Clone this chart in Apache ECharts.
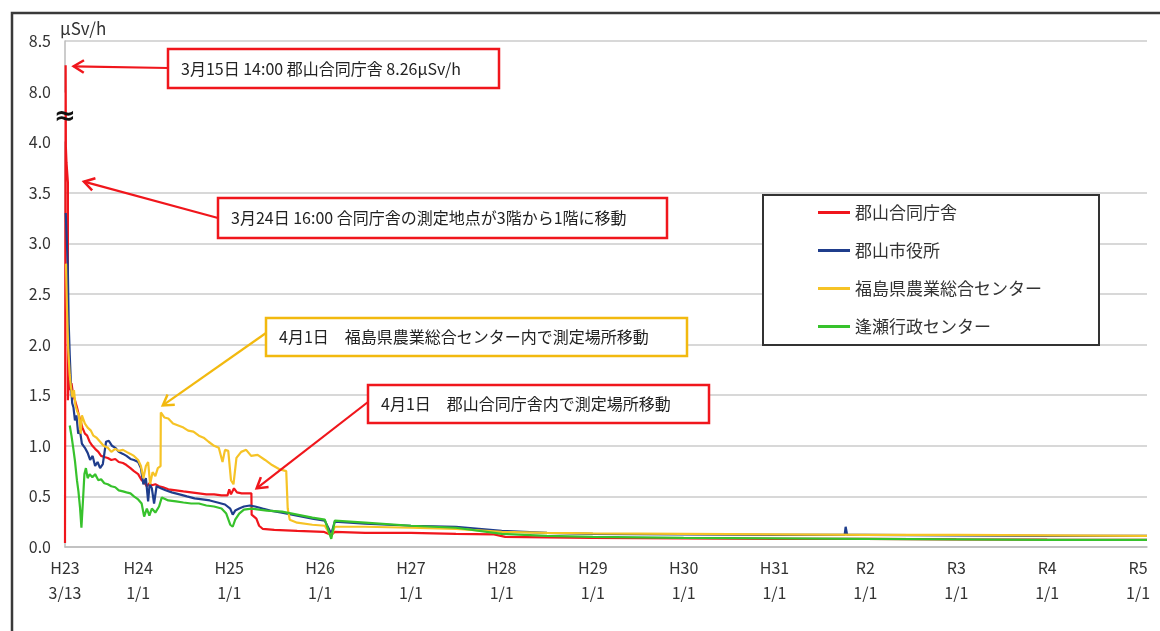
<!DOCTYPE html>
<html>
<head>
<meta charset="utf-8">
<script src="https://cdn.jsdelivr.net/npm/echarts@6/dist/echarts.min.js"></script>
<style>
  html, body { margin: 0; padding: 0; background: #fff; }
  #main { width: 1160px; height: 631px; }
</style>
</head>
<body>
<div id="main"></div>
<script>
// 凡例
const seriesNames = ['郡山合同庁舎', '郡山市役所', '福島県農業総合センター', '逢瀬行政センター'];

// 横軸の目盛
const tickDates = ['2011-03-13', '2012-01-01', '2013-01-01', '2014-01-01', '2015-01-01', '2016-01-01',
  '2017-01-01', '2018-01-01', '2019-01-01', '2020-01-01', '2021-01-01', '2022-01-01', '2023-01-01'];
const tickLabels = ['H23\n3/13', 'H24\n1/1', 'H25\n1/1', 'H26\n1/1', 'H27\n1/1', 'H28\n1/1',
  'H29\n1/1', 'H30\n1/1', 'H31\n1/1', 'R2\n1/1', 'R3\n1/1', 'R4\n1/1', 'R5\n1/1'];

// 郡山合同庁舎
const godoData = [
  ['2011-03-13 00:00', 0.04], ['2011-03-15 14:00', 8.26], ['2011-03-16 12:00', 3.95], ['2011-03-19', 3.8],
  ['2011-03-24 16:00', 3.6], ['2011-03-24 17:00', 1.45], ['2011-03-28', 1.65], ['2011-04-03', 1.55],
  ['2011-04-08', 1.62], ['2011-04-15', 1.5], ['2011-04-22', 1.45], ['2011-04-30', 1.38], ['2011-05-08', 1.3],
  ['2011-05-15', 1.24], ['2011-05-22', 1.18], ['2011-06-01', 1.12], ['2011-06-10', 1.1], ['2011-06-20', 1.04],
  ['2011-07-01', 1.0], ['2011-07-12', 0.97], ['2011-07-25', 0.94], ['2011-08-05', 0.9], ['2011-08-18', 0.89],
  ['2011-09-01', 0.88], ['2011-09-15', 0.86], ['2011-10-01', 0.87], ['2011-10-15', 0.84], ['2011-11-01', 0.83],
  ['2011-11-15', 0.81], ['2011-12-01', 0.78], ['2011-12-15', 0.75], ['2012-01-01', 0.72], ['2012-01-15', 0.66],
  ['2012-01-25', 0.64], ['2012-02-05', 0.6], ['2012-02-15', 0.63], ['2012-02-25', 0.61], ['2012-03-10', 0.62],
  ['2012-03-25', 0.6], ['2012-04-10', 0.59], ['2012-05-01', 0.57], ['2012-06-01', 0.56], ['2012-07-01', 0.55],
  ['2012-08-01', 0.54], ['2012-09-01', 0.53], ['2012-10-01', 0.52], ['2012-11-01', 0.52], ['2012-12-01', 0.51],
  ['2012-12-25', 0.51], ['2013-01-01', 0.57], ['2013-01-08', 0.52], ['2013-01-20', 0.58], ['2013-02-01', 0.54],
  ['2013-02-20', 0.53], ['2013-03-10', 0.53], ['2013-03-31', 0.53], ['2013-04-01', 0.32], ['2013-04-20', 0.28],
  ['2013-05-01', 0.21], ['2013-05-15', 0.18], ['2013-07-01', 0.17], ['2013-10-01', 0.16], ['2014-01-15', 0.15],
  ['2014-02-15', 0.12], ['2014-03-01', 0.15], ['2014-07-01', 0.14], ['2015-01-01', 0.14], ['2015-07-01', 0.13],
  ['2015-12-01', 0.125], ['2016-01-15', 0.1], ['2016-07-01', 0.095], ['2017-01-01', 0.09], ['2018-01-01', 0.085],
  ['2019-01-01', 0.08], ['2020-01-01', 0.08], ['2021-01-01', 0.075], ['2022-01-01', 0.072], ['2023-02-06', 0.07]
];

// 郡山市役所
const shiyakushoData = [
  ['2011-03-16', 3.3], ['2011-03-20', 3.05], ['2011-03-24', 2.8], ['2011-03-28', 2.2], ['2011-04-01', 1.9],
  ['2011-04-06', 1.6], ['2011-04-11', 1.42], ['2011-04-16', 1.38], ['2011-04-22', 1.25], ['2011-04-28', 1.3],
  ['2011-05-05', 1.12], ['2011-05-12', 1.15], ['2011-05-20', 1.02], ['2011-06-01', 0.98], ['2011-06-12', 0.93],
  ['2011-06-22', 0.86], ['2011-07-02', 0.9], ['2011-07-12', 0.8], ['2011-07-22', 0.84], ['2011-08-01', 0.78],
  ['2011-08-12', 0.82], ['2011-08-25', 1.04], ['2011-09-05', 1.05], ['2011-09-18', 1.0], ['2011-10-01', 0.98],
  ['2011-10-15', 0.94], ['2011-11-01', 0.92], ['2011-11-15', 0.9], ['2011-12-01', 0.87], ['2011-12-15', 0.86],
  ['2012-01-01', 0.84], ['2012-01-12', 0.78], ['2012-01-22', 0.62], ['2012-02-01', 0.68], ['2012-02-10', 0.45],
  ['2012-02-16', 0.62], ['2012-02-25', 0.58], ['2012-03-05', 0.43], ['2012-03-15', 0.6], ['2012-04-01', 0.58],
  ['2012-04-20', 0.56], ['2012-05-15', 0.54], ['2012-06-15', 0.52], ['2012-07-15', 0.5], ['2012-08-15', 0.48],
  ['2012-09-15', 0.47], ['2012-10-15', 0.46], ['2012-11-15', 0.44], ['2012-12-15', 0.42], ['2013-01-05', 0.38],
  ['2013-01-15', 0.32], ['2013-01-25', 0.36], ['2013-02-10', 0.38], ['2013-03-01', 0.4], ['2013-03-25', 0.41],
  ['2013-04-15', 0.4], ['2013-05-15', 0.38], ['2013-06-15', 0.36], ['2013-08-01', 0.34], ['2013-10-01', 0.31],
  ['2013-12-01', 0.28], ['2014-01-20', 0.26], ['2014-02-15', 0.13], ['2014-03-01', 0.25], ['2014-07-01', 0.23],
  ['2015-01-01', 0.21], ['2015-07-01', 0.2], ['2016-01-01', 0.16], ['2016-07-01', 0.14], ['2017-01-01', 0.13],
  ['2018-01-01', 0.125], ['2019-01-01', 0.12], ['2019-10-10', 0.12], ['2019-10-14', 0.2], ['2019-10-20', 0.12],
  ['2020-01-01', 0.12], ['2021-01-01', 0.115], ['2022-01-01', 0.11], ['2023-02-06', 0.11]
];

// 福島県農業総合センター
const nogyoData = [
  ['2011-03-17', 2.8], ['2011-03-21', 2.35], ['2011-03-26', 1.95], ['2011-04-01', 1.7], ['2011-04-06', 1.58],
  ['2011-04-12', 1.48], ['2011-04-18', 1.55], ['2011-04-24', 1.4], ['2011-05-01', 1.34], ['2011-05-08', 1.3],
  ['2011-05-15', 1.12], ['2011-05-20', 1.3], ['2011-06-01', 1.22], ['2011-06-12', 1.18], ['2011-06-25', 1.15],
  ['2011-07-05', 1.1], ['2011-07-18', 1.08], ['2011-08-01', 1.04], ['2011-08-15', 1.0], ['2011-09-01', 0.98],
  ['2011-09-15', 0.94], ['2011-10-01', 0.97], ['2011-10-15', 0.95], ['2011-11-01', 0.96], ['2011-11-15', 0.94],
  ['2011-12-01', 0.92], ['2011-12-15', 0.9], ['2012-01-01', 0.86], ['2012-01-12', 0.8], ['2012-01-22', 0.68],
  ['2012-02-01', 0.8], ['2012-02-10', 0.84], ['2012-02-18', 0.62], ['2012-02-28', 0.74], ['2012-03-10', 0.7],
  ['2012-03-20', 0.78], ['2012-03-31', 0.8], ['2012-04-01', 1.33], ['2012-04-15', 1.28], ['2012-05-01', 1.27],
  ['2012-05-20', 1.22], ['2012-06-10', 1.2], ['2012-07-01', 1.18], ['2012-07-20', 1.15], ['2012-08-10', 1.14],
  ['2012-09-01', 1.1], ['2012-09-20', 1.08], ['2012-10-10', 1.04], ['2012-11-01', 1.0], ['2012-11-20', 0.98],
  ['2012-12-05', 0.84], ['2012-12-15', 0.96], ['2012-12-28', 0.95], ['2013-01-08', 0.66], ['2013-01-18', 0.62],
  ['2013-01-30', 0.88], ['2013-02-18', 0.94], ['2013-03-10', 0.96], ['2013-03-30', 0.9], ['2013-04-25', 0.91],
  ['2013-05-25', 0.86], ['2013-06-22', 0.81], ['2013-07-20', 0.77], ['2013-08-18', 0.75], ['2013-08-24', 0.38],
  ['2013-09-01', 0.27], ['2013-10-01', 0.24], ['2013-12-01', 0.22], ['2014-01-20', 0.21], ['2014-02-15', 0.1],
  ['2014-03-01', 0.2], ['2014-07-01', 0.2], ['2015-01-01', 0.19], ['2015-07-01', 0.18], ['2016-01-01', 0.15],
  ['2016-07-01', 0.14], ['2017-01-01', 0.135], ['2018-01-01', 0.13], ['2019-01-01', 0.125], ['2020-01-01', 0.12],
  ['2021-01-01', 0.12], ['2022-01-01', 0.115], ['2023-02-06', 0.11]
];

// 逢瀬行政センター
const ouseData = [
  ['2011-04-01', 1.2], ['2011-04-08', 1.1], ['2011-04-15', 0.98], ['2011-04-22', 0.85], ['2011-04-30', 0.66],
  ['2011-05-06', 0.55], ['2011-05-12', 0.4], ['2011-05-18', 0.19], ['2011-05-24', 0.45], ['2011-05-30', 0.72],
  ['2011-06-05', 0.78], ['2011-06-12', 0.68], ['2011-06-20', 0.72], ['2011-07-01', 0.69], ['2011-07-12', 0.72],
  ['2011-07-25', 0.66], ['2011-08-05', 0.67], ['2011-08-18', 0.63], ['2011-09-01', 0.62], ['2011-09-15', 0.6],
  ['2011-10-01', 0.59], ['2011-10-15', 0.56], ['2011-11-01', 0.55], ['2011-11-15', 0.54], ['2011-12-01', 0.53],
  ['2011-12-15', 0.5], ['2012-01-01', 0.47], ['2012-01-15', 0.43], ['2012-01-25', 0.3], ['2012-02-05', 0.38],
  ['2012-02-15', 0.31], ['2012-02-25', 0.38], ['2012-03-10', 0.34], ['2012-03-25', 0.4], ['2012-04-05', 0.49],
  ['2012-05-01', 0.46], ['2012-06-01', 0.45], ['2012-07-01', 0.44], ['2012-08-01', 0.43], ['2012-09-01', 0.43],
  ['2012-10-01', 0.41], ['2012-11-01', 0.4], ['2012-12-01', 0.38], ['2012-12-20', 0.33], ['2013-01-05', 0.22],
  ['2013-01-15', 0.2], ['2013-01-25', 0.27], ['2013-02-10', 0.33], ['2013-03-01', 0.37], ['2013-04-01', 0.38],
  ['2013-05-01', 0.37], ['2013-06-01', 0.36], ['2013-08-01', 0.35], ['2013-10-01', 0.32], ['2013-12-01', 0.29],
  ['2014-01-20', 0.27], ['2014-02-15', 0.08], ['2014-03-01', 0.26], ['2014-07-01', 0.24], ['2015-01-01', 0.21],
  ['2015-07-01', 0.19], ['2016-01-01', 0.13], ['2016-07-01', 0.11], ['2017-01-01', 0.1], ['2018-01-01', 0.09],
  ['2019-01-01', 0.085], ['2020-01-01', 0.08], ['2021-01-01', 0.075], ['2022-01-01', 0.07], ['2023-02-06', 0.07]
];

// 注記
const noteTexts = [
  '3月15日 14:00 郡山合同庁舎 8.26μSv/h',
  '3月24日 16:00 合同庁舎の測定地点が3階から1階に移動',
  '4月1日　福島県農業総合センター内で測定場所移動',
  '4月1日　郡山合同庁舎内で測定場所移動'
];
const noteAnchors = [['2011-03-15 14:00', 8.26], ['2011-03-24 16:00', 3.6], ['2012-04-01', 1.33], ['2013-04-01', 0.52]];

const RED = '#f0161c', BLUE = '#1f3d8c', YELLOW = '#f6c326', GREEN = '#37c22c';
const FONT = '"Noto Sans CJK JP", "Noto Sans", sans-serif';

// 日付を数値(ms)に
const toTime = d => +echarts.time.parse(d);
const asTime = rows => rows.map(r => [toTime(r[0]), r[1]]);
const tickTimes = tickDates.map(toTime);

const chart = echarts.init(document.getElementById('main'));

const lineSeries = (name, data, color) => ({
  name: name,
  type: 'line',
  data: asTime(data),
  showSymbol: false,
  symbol: 'none',
  color: color,
  lineStyle: { width: 2.2, color: color },
  emphasis: { disabled: true }
});

chart.setOption({
  animation: false,
  backgroundColor: '#fff',
  textStyle: { fontFamily: FONT },
  grid: { left: 65, right: 13, top: 41, bottom: 84, outerBoundsMode: 'none' },
  legend: {
    orient: 'vertical',
    left: 763,
    top: 195,
    padding: [9, 57, 10, 55],
    itemGap: 21,
    icon: 'rect',
    itemWidth: 32,
    itemHeight: 3,
    borderColor: '#333',
    borderWidth: 2,
    backgroundColor: '#fff',
    textStyle: { fontSize: 17, color: '#333', fontFamily: FONT },
    data: seriesNames
  },
  xAxis: {
    type: 'value',
    min: toTime('2011-03-13'),
    max: toTime('2023-02-06'),
    splitLine: { show: false },
    axisTick: { show: false },
    axisLine: { lineStyle: { color: '#bbb', width: 1.5 } },
    axisLabel: {
      customValues: tickTimes,
      hideOverlap: false,
      fontSize: 16,
      lineHeight: 25,
      color: '#333',
      margin: 8,
      formatter: function (v) {
        for (let i = 0; i < tickTimes.length; i++) {
          if (Math.abs(tickTimes[i] - v) < 86400000) return tickLabels[i];
        }
        return '';
      }
    }
  },
  yAxis: {
    type: 'value',
    min: 0,
    max: 8.5,
    interval: 0.5,
    breaks: [{ start: 4, end: 8, gap: 0.5 }],
    breakArea: { show: false },
    name: 'μSv/h',
    nameLocation: 'end',
    nameGap: 4,
    nameTextStyle: { align: 'left', fontSize: 17, color: '#333', padding: [0, 0, 0, -5] },
    axisLine: { show: true, lineStyle: { color: '#bbb', width: 1.5 } },
    axisTick: { show: false },
    splitLine: { lineStyle: { color: '#cbcbcb', width: 1.5 } },
    axisLabel: {
      fontSize: 16,
      color: '#333',
      margin: 14,
      formatter: v => v.toFixed(1)
    }
  },
  series: [
    lineSeries(seriesNames[0], godoData, RED),
    lineSeries(seriesNames[1], shiyakushoData, BLUE),
    lineSeries(seriesNames[2], nogyoData, YELLOW),
    lineSeries(seriesNames[3], ouseData, GREEN)
  ]
});

// 注記の枠と矢印
const boxes = [
  { x: 168, y: 49, w: 331, h: 39, color: RED, tail: [168, 68], off: [8, 1] },
  { x: 218, y: 198, w: 449, h: 40, color: RED, tail: [218, 218], off: [16, -1] },
  { x: 266, y: 318, w: 421, h: 38, color: '#f2b90f', tail: [266, 333], off: [2, -7] },
  { x: 368, y: 385, w: 341, h: 38, color: RED, tail: [368, 402], off: [5, -6] }
];

function arrow(x1, y1, x2, y2, color) {
  const a = Math.atan2(y2 - y1, x2 - x1);
  const L = 12, s = 0.55;
  return [
    { type: 'line', shape: { x1: x1, y1: y1, x2: x2, y2: y2 }, style: { stroke: color, lineWidth: 2.2 }, z: 100 },
    {
      type: 'polyline',
      shape: { points: [[x2 - L * Math.cos(a - s), y2 - L * Math.sin(a - s)], [x2, y2], [x2 - L * Math.cos(a + s), y2 - L * Math.sin(a + s)]] },
      style: { stroke: color, lineWidth: 2.5, fill: null }, z: 100
    }
  ];
}

const graphics = [
  { type: 'rect', shape: { x: 12, y: 13, width: 1170, height: 640 }, style: { fill: null, stroke: '#3a3a3a', lineWidth: 2.5 }, z: 100, silent: true }
];
boxes.forEach((b, i) => {
  const p = chart.convertToPixel({ xAxisIndex: 0, yAxisIndex: 0 }, [toTime(noteAnchors[i][0]), noteAnchors[i][1]]);
  graphics.push(...arrow(b.tail[0], b.tail[1], p[0] + b.off[0], p[1] + b.off[1], b.color));
  graphics.push({ type: 'rect', shape: { x: b.x, y: b.y, width: b.w, height: b.h }, style: { fill: '#fff', stroke: b.color, lineWidth: 2.5 }, z: 101 });
  graphics.push({ type: 'text', x: b.x + 13, y: b.y + b.h / 2, style: { text: noteTexts[i], font: '16px ' + FONT, fill: '#222', verticalAlign: 'middle' }, z: 102 });
});
const y4 = chart.convertToPixel({ yAxisIndex: 0 }, 4);
const y8 = chart.convertToPixel({ yAxisIndex: 0 }, 8);
graphics.push({ type: 'text', x: 65, y: (y4 + y8) / 2, style: { text: '≈', font: 'bold 26px "DejaVu Sans"', fill: '#111', align: 'center', verticalAlign: 'middle' }, z: 103 });

chart.setOption({ graphic: graphics });
</script>
</body>
</html>
